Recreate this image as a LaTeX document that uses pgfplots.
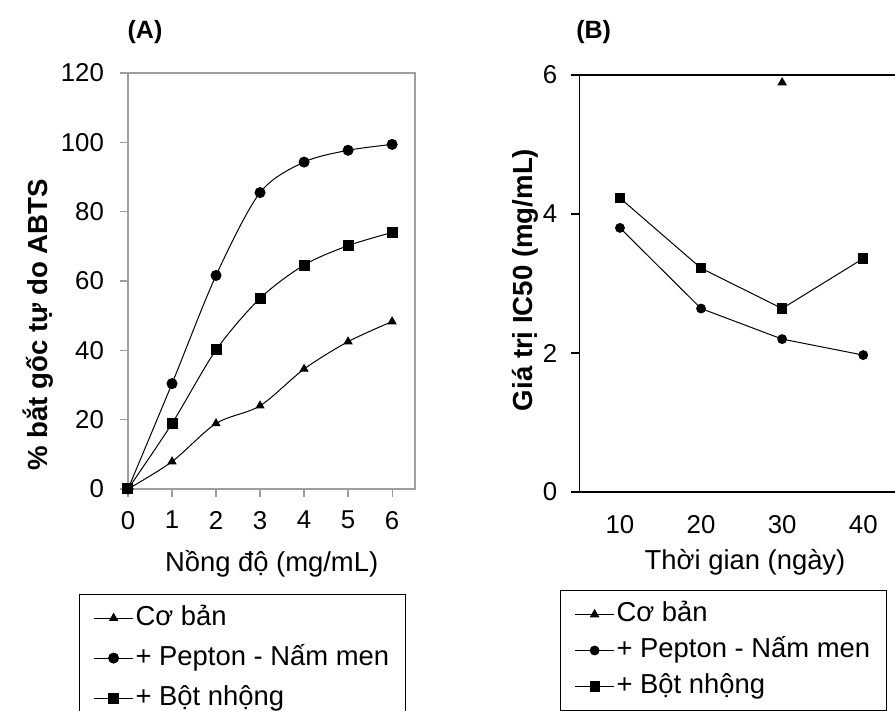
\documentclass[border=0pt]{standalone}
\usepackage{fontspec}
\setmainfont{Liberation Sans}
\usepackage{pgfplots}
\pgfplotsset{compat=1.18}
\begin{document}
\begin{tikzpicture}
\pgfplotsset{
  /pgf/number format/assume math mode=true,
  every axis/.append style={
    scale only axis, clip=false,
    tick align=outside, major tick length=4pt,
    xtick pos=lower, ytick pos=left,
    ticklabel style={font=\fontsize{12.9}{15}\selectfont},
    legend cell align=left,
    legend style={draw=black, line width=0.6pt, anchor=north west,
      font=\fontsize{13.7}{16}\selectfont, inner xsep=7pt,
      row sep=0pt,
      nodes={inner xsep=1pt, text height=11pt, text depth=3.5pt}},
    legend image code/.code={\draw[mark repeat=2,mark phase=2,line width=0.5pt] plot coordinates {(0pt,0pt) (9.75pt,0pt) (19.5pt,0pt)};},
  },
}
% Panel A
\begin{axis}[
  at={(64pt,111pt)}, anchor=south west,
  width=143.5pt, height=208pt,
  xmin=0, xmax=6.52, ymin=0, ymax=120,
  xtick={0,...,6}, ytick={0,20,...,120},
  axis line style={gray!75, line width=0.6pt},
  tick style={gray!75, line width=0.6pt},
  yticklabel style={xshift=-4.5pt},
  xticklabel style={yshift=-3.5pt},
  legend style={at={(-0.1707,-0.2524)}, inner ysep=1.75pt,
    nodes={inner ysep=2.75pt}},
]
\addplot[black, line width=0.5pt, smooth, mark=triangle*, mark size=2.2pt] coordinates {(0,0) (1,7.9) (2,18.9) (3,24.0) (4,34.6) (5,42.5) (6,48.3)};
\addlegendentry{Cơ bản}
\addplot[black, line width=0.5pt, smooth, mark=*, mark size=2.5pt] coordinates {(0,0) (1,30.4) (2,61.6) (3,85.5) (4,94.3) (5,97.7) (6,99.4)};
\addlegendentry{+ Pepton - Nấm men}
\addplot[black, line width=0.5pt, smooth, mark=square*, mark size=2.5pt] coordinates {(0,0) (1,18.9) (2,40.1) (3,55.0) (4,64.6) (5,70.2) (6,74.0)};
\addlegendentry{+ Bột nhộng}
\end{axis}
% Panel B
\begin{axis}[
  at={(289.7pt,109.5pt)}, anchor=south west,
  width=158.15pt, height=208.5pt,
  xmin=5, xmax=44, ymin=0, ymax=6,
  xtick={10,20,30,40}, ytick={0,2,4,6},
  axis y line*=left,
  axis line style={black, line width=0.6pt},
  ytick style={black, line width=0.6pt},
  xtick style={draw=none},
  yticklabel style={xshift=-3.5pt},
  xticklabel style={yshift=-4pt},
  legend style={at={(-0.0613,-0.2343)}, inner ysep=3.1pt,
    nodes={inner ysep=1.75pt}},
]
\addplot[black, line width=0.5pt, mark=triangle*, mark size=2.3pt] coordinates {(30,5.89)};
\addlegendentry{Cơ bản}
\addplot[black, line width=0.5pt, mark=*, mark size=2.2pt] coordinates {(10,3.80) (20,2.64) (30,2.20) (40,1.97)};
\addlegendentry{+ Pepton - Nấm men}
\addplot[black, line width=0.5pt, mark=square*, mark size=2.3pt] coordinates {(10,4.23) (20,3.22) (30,2.64) (40,3.36)};
\addlegendentry{+ Bột nhộng}
\end{axis}
% titles and labels
\node[anchor=base, font=\bfseries\fontsize{12.5}{14}\selectfont] at (72.5pt,336.3pt) {(A)};
\node[anchor=base, font=\bfseries\fontsize{12.5}{14}\selectfont] at (296.8pt,336.3pt) {(B)};
\node[rotate=90, anchor=base, font=\bfseries\fontsize{13.8}{16}\selectfont] at (23.5pt,193pt) {\% bắt gốc tự do ABTS};
\node[rotate=90, anchor=base, font=\bfseries\fontsize{13.8}{16}\selectfont] at (266pt,215.5pt) {Giá trị IC50 (mg/mL)};
\node[anchor=base, font=\fontsize{13.7}{16}\selectfont] at (135.8pt,69.5pt) {Nồng độ (mg/mL)};
\node[anchor=base, font=\fontsize{13.7}{16}\selectfont] at (372.5pt,70.5pt) {Thời gian (ngày)};
\pgfresetboundingbox
\path (0,0) rectangle (447.5pt,355.5pt);
\end{tikzpicture}
\end{document}
